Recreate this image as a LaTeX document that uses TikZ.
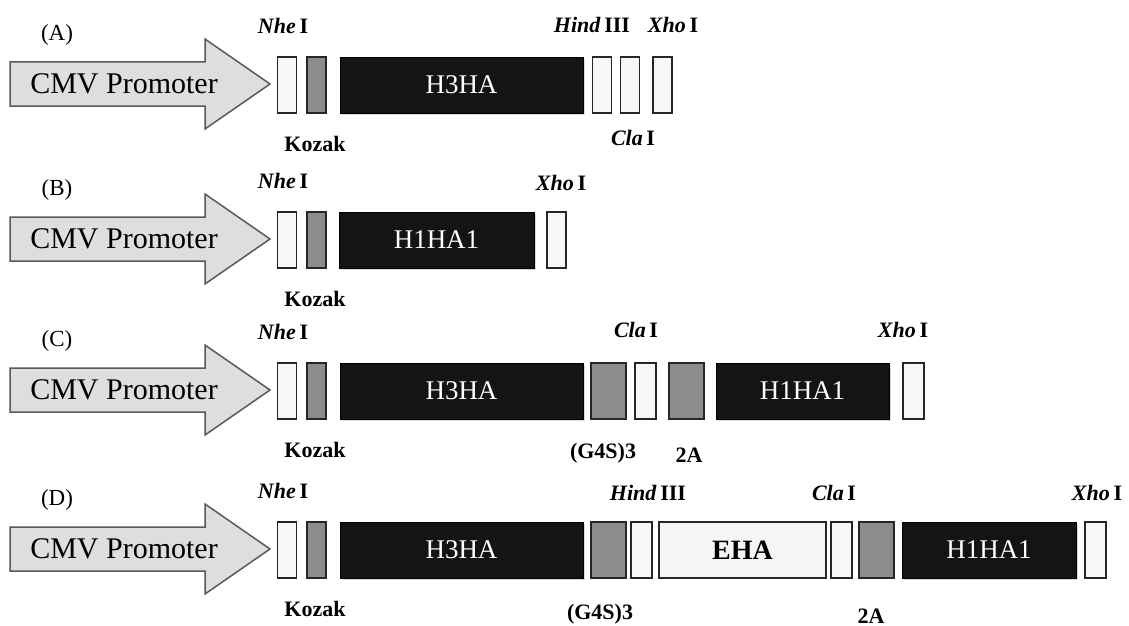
\documentclass[tikz,border=0pt]{standalone}
\usepackage{fontspec}
\setmainfont{Liberation Serif}
\usetikzlibrary{shadows}
\newcommand{\enz}[2]{\textit{#1}\,#2}

\begin{document}
\begin{tikzpicture}[x=1pt, y=-1pt,
    promoter/.style={draw=black!65, fill=black!13, line width=1.5pt},
    site/.style={draw=black!85, fill=black!3, line width=1.2pt, inner sep=0pt,
      minimum width=19pt, minimum height=56pt},
    linker/.style={site, fill=black!45},
    gene/.style={draw=black, fill=black!92, text=white, inner sep=0pt,
      minimum height=56pt, font=\fontsize{27}{30}\selectfont,
      drop shadow={shadow xshift=2pt, shadow yshift=-2pt, opacity=0.3}},
    tag/.style={font=\bfseries\fontsize{22}{24}\selectfont, inner sep=0pt},
    panel/.style={font=\fontsize{23}{25}\selectfont, inner sep=0pt}]
  \useasboundingbox (0,0) rectangle (1129,626);

  % Promotor, NheI y Kozak comunes
  \foreach \ry/\rl in {85/A, 240/B, 391/C, 550/D} {
    \begin{scope}[shift={(0,\ry)}]
      \draw[promoter] (10,-23) -- (205,-23) -- (205,-46) -- (270,-1)
        -- (205,44) -- (205,21) -- (10,21) -- cycle;
      \node[font=\fontsize{30}{32}\selectfont] (cmv\rl) at (124,-1) {CMV Promoter};
      \node[panel] (lab\rl) at (57,-50) {(\rl)};
      \node[site] (nhe\rl) at (287,0) {};
      \node[linker] (koz\rl) at (316.5,0) {};
      \node[tag] (tnhe\rl) at (283,-59) {\enz{Nhe}{I}};
      \node[tag] (tkoz\rl) at (315,59) {Kozak};
    \end{scope}
  }

  % Construccion A
  \begin{scope}[shift={(0,85)}]
    \node[gene, minimum width=243pt] (h3A) at (461.5,0) {H3HA};
    \node[site] (hindA) at (602,0) {};
    \node[site] (claA) at (630,0) {};
    \node[site] (xhoA) at (662.5,0) {};
    \node[tag] (thindA) at (592,-60) {\enz{Hind}{III}};
    \node[tag] (txhoA) at (673,-60) {\enz{Xho}{I}};
    \node[tag] (tclaA) at (633,53) {\enz{Cla}{I}};
  \end{scope}

  % Construccion B
  \begin{scope}[shift={(0,240)}]
    \node[gene, minimum width=195pt] (h1B) at (436.5,0) {H1HA1};
    \node[site] (xhoB) at (556.5,0) {};
    \node[tag] (txhoB) at (561,-57) {\enz{Xho}{I}};
  \end{scope}

  % Construccion C
  \begin{scope}[shift={(0,391)}]
    \node[gene, minimum width=243pt] (h3C) at (461.5,0) {H3HA};
    \node[linker, minimum width=35pt] (g4sC) at (608.5,0) {};
    \node[site, minimum width=21pt] (claC) at (645.5,0) {};
    \node[linker, minimum width=35pt] (p2aC) at (686.5,0) {};
    \node[gene, minimum width=173pt] (h1C) at (802.5,0) {H1HA1};
    \node[site, minimum width=21pt] (xhoC) at (913.5,0) {};
    \node[tag] (tclaC) at (636,-61) {\enz{Cla}{I}};
    \node[tag] (txhoC) at (903,-61) {\enz{Xho}{I}};
    \node[tag] (tg4sC) at (603,62) {(G4S)3};
    \node[tag] (tp2aC) at (689,64) {2A};
  \end{scope}

  % Construccion D
  \begin{scope}[shift={(0,550)}]
    \node[gene, minimum width=243pt] (h3D) at (461.5,0) {H3HA};
    \node[linker, minimum width=35pt] (g4sD) at (608.5,0) {};
    \node[site, minimum width=21pt] (hindD) at (641.5,0) {};
    \node[site, minimum width=167pt, fill=black!4,
      font=\bfseries\fontsize{28}{30}\selectfont] (ehaD) at (742.5,0) {EHA};
    \node[site, minimum width=21pt] (claD) at (841.5,0) {};
    \node[linker, minimum width=35pt] (p2aD) at (876.5,0) {};
    \node[gene, minimum width=174pt] (h1D) at (989,0) {H1HA1};
    \node[site, minimum width=21pt] (xhoD) at (1095.5,0) {};
    \node[tag] (thindD) at (648,-57) {\enz{Hind}{III}};
    \node[tag] (tclaD) at (834,-57) {\enz{Cla}{I}};
    \node[tag] (txhoD) at (1097,-57) {\enz{Xho}{I}};
    \node[tag] (tg4sD) at (600,64) {(G4S)3};
    \node[tag] (tp2aD) at (871,66) {2A};
  \end{scope}
\end{tikzpicture}
\end{document}
